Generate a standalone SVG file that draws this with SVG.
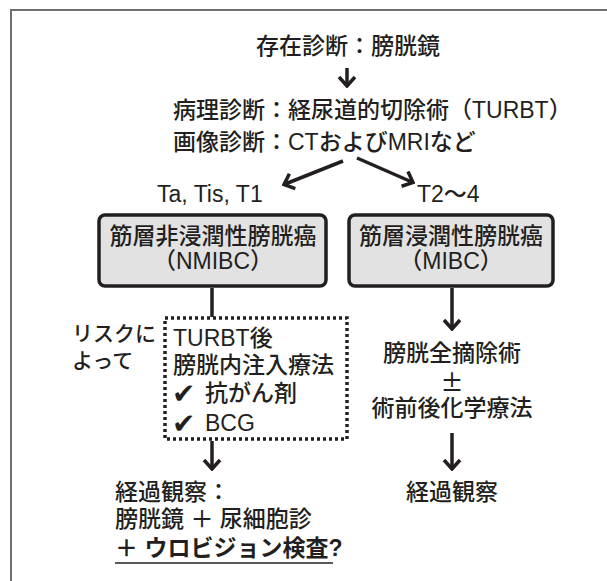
<svg xmlns="http://www.w3.org/2000/svg" width="607" height="581" viewBox="0 0 607 581">
<style>
text{font-family:"Liberation Sans","Noto Sans CJK JP",sans-serif;font-size:23px;fill:#231f20;font-weight:500}
.c{text-anchor:middle}
.sm{font-size:21px}
.b{font-weight:700}
.pm{font-family:"Noto Sans CJK JP",sans-serif;font-size:23px}
.chk{font-family:"DejaVu Sans","Noto Sans CJK JP",sans-serif;font-size:28px}
.ln{fill:none;stroke:#231f20;stroke-width:3.5}
.box{fill:#e2e2e2;stroke:#231f20;stroke-width:3.5}
.dot{fill:none;stroke:#231f20;stroke-width:3.5;stroke-dasharray:3 3}
</style>
<defs>
<marker id="ah" viewBox="-12 -10 14 20" markerWidth="14" markerHeight="20" refX="0" refY="0" orient="auto" markerUnits="userSpaceOnUse">
<path d="M-9,-8 L0,0 L-9,8" fill="none" stroke="#231f20" stroke-width="3.5"/>
</marker>
</defs>
<rect width="607" height="581" fill="#ffffff"/>
<path d="M11,581 V10 H607" fill="none" stroke="#707070" stroke-width="2"/>

<g id="top">
<text class="c" x="348" y="54">存在診断：膀胱鏡</text>
</g>
<g id="diag">
<text x="173" y="118">病理診断：経尿道的切除術（TURBT）</text>
<text x="173" y="150">画像診断：CTおよびMRIなど</text>
</g>
<text x="157" y="202">Ta, Tis, T1</text>
<text x="417" y="202">T2〜4</text>

<g id="nmibc">
<rect class="box" x="99" y="215" width="227" height="71" rx="6"/>
<text class="c" x="213" y="244">筋層非浸潤性膀胱癌</text>
<text class="c" x="213" y="269">（NMIBC）</text>
</g>
<g id="mibc">
<rect class="box" x="349" y="215" width="204" height="71" rx="6"/>
<text class="c" x="451" y="244">筋層浸潤性膀胱癌</text>
<text class="c" x="451" y="269">（MIBC）</text>
</g>

<g id="risk">
<text class="sm" x="72" y="341">リスクに</text>
<text class="sm" x="72" y="368">よって</text>
</g>

<g id="turbt">
<rect class="dot" x="165" y="318" width="182" height="121"/>
<text x="173" y="346">TURBT後</text>
<text x="173" y="373">膀胱内注入療法</text>
<text class="chk" x="172" y="403">✔</text>
<text x="205" y="401">抗がん剤</text>
<text class="chk" x="172" y="433">✔</text>
<text x="205" y="431">BCG</text>
</g>

<g id="follow1">
<text x="115" y="500">経過観察：</text>
<text x="115" y="527">膀胱鏡 ＋ 尿細胞診</text>
<text class="b" x="115" y="556">＋ ウロビジョン検査?</text>
<line x1="115" y1="563" x2="333" y2="563" stroke="#231f20" stroke-width="1.5"/>
</g>

<g id="cystectomy">
<text class="c" x="452" y="361">膀胱全摘除術</text>
<text class="c pm" x="452" y="391">±</text>
<text class="c" x="452" y="416">術前後化学療法</text>
</g>
<g id="follow2">
<text class="c" x="452" y="500">経過観察</text>
</g>

<g id="connectors">
<line class="ln" x1="347" y1="68" x2="347" y2="86" marker-end="url(#ah)"/>
<line class="ln" x1="343" y1="161" x2="284" y2="184.5" marker-end="url(#ah)"/>
<line class="ln" x1="357" y1="158" x2="413" y2="182.5" marker-end="url(#ah)"/>
<line class="ln" x1="212" y1="288" x2="212" y2="317"/>
<line class="ln" x1="212" y1="441" x2="212" y2="469" marker-end="url(#ah)"/>
<line class="ln" x1="452" y1="288" x2="452" y2="329" marker-end="url(#ah)"/>
<line class="ln" x1="452" y1="433" x2="452" y2="469" marker-end="url(#ah)"/>
</g>
</svg>
